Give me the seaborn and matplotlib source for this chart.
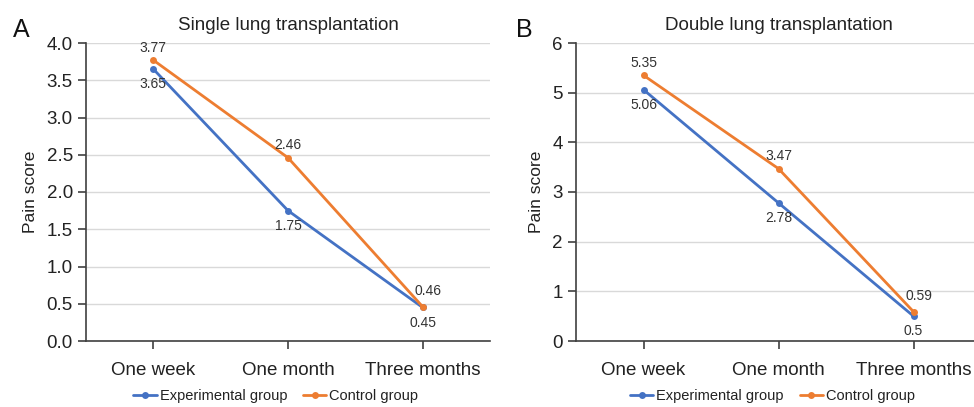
"""
Pain scores after single and double lung transplantation,
experimental vs control group.
"""

import matplotlib
matplotlib.use("Agg")
import matplotlib.pyplot as plt
import pandas as pd
import seaborn as sns

TIMES = ["One week", "One month", "Three months"]
GROUPS = ["Experimental group", "Control group"]

SINGLE_EXP = [3.65, 1.75, 0.45]
SINGLE_CTRL = [3.77, 2.46, 0.46]
DOUBLE_EXP = [5.06, 2.78, 0.5]
DOUBLE_CTRL = [5.35, 3.47, 0.59]

SINGLE_TICKS = [0.0, 0.5, 1.0, 1.5, 2.0, 2.5, 3.0, 3.5, 4.0]
DOUBLE_TICKS = [0, 1, 2, 3, 4, 5, 6]

COLORS = {"Experimental group": "#4472C4", "Control group": "#ED7D31"}


def to_long(exp, ctrl):
    rows = []
    for g, vals in zip(GROUPS, [exp, ctrl]):
        for t, v in zip(TIMES, vals):
            rows.append({"time": t, "score": v, "group": g})
    return pd.DataFrame(rows)


def fmt(v):
    s = f"{v:.2f}".rstrip("0")
    return s if not s.endswith(".") else s + "0"


def draw_panel(ax, exp, ctrl, ticks, tick_fmt, title, legend_x):
    df = to_long(exp, ctrl)
    sns.lineplot(data=df, x="time", y="score", hue="group", palette=COLORS,
                 marker="o", markersize=5, markeredgewidth=0, linewidth=2,
                 sort=False, ax=ax)
    ax.set_xlim(-0.5, 2.5)
    ax.set_ylim(ticks[0], ticks[-1])
    ax.set_yticks(ticks)
    ax.set_yticklabels([tick_fmt.format(t) for t in ticks])
    ax.grid(axis="y", color="#d9d9d9", linewidth=1)
    ax.grid(axis="x", visible=False)
    for side in ["top", "right"]:
        ax.spines[side].set_visible(False)
    for side in ["left", "bottom"]:
        ax.spines[side].set_color("#404040")
        ax.spines[side].set_linewidth(1.2)
    ax.tick_params(axis="both", direction="out", length=6, width=1.2,
                   bottom=True, left=True,
                   color="#404040", labelsize=13.5, labelcolor="#222222")
    ax.tick_params(axis="x", pad=9)
    ax.set_xlabel("")
    ax.set_ylabel("Pain score", fontsize=12.5, color="#222222", labelpad=6)
    ax.set_title(title, fontsize=13.5, color="#222222", pad=9)

    # data labels: experimental below, control above
    for i, (e, c) in enumerate(zip(exp, ctrl)):
        dx = 4 if i == 2 else 0
        dy = 11 if i == 2 else 9
        ax.annotate(fmt(e), (i, e), xytext=(0, -11), textcoords="offset points",
                    ha="center", va="center", fontsize=10, color="#333333")
        ax.annotate(fmt(c), (i, c), xytext=(dx, dy), textcoords="offset points",
                    ha="center", va="center", fontsize=10, color="#333333")

    handles, labels = ax.get_legend_handles_labels()
    ax.legend(handles, labels, loc="center", bbox_to_anchor=(legend_x, -0.185),
              ncol=2, frameon=False, fontsize=10.5, handlelength=1.6,
              handletextpad=0.2, columnspacing=1.1, labelcolor="#222222")


def main():
    sns.set_theme(style="white")
    plt.rcParams["font.family"] = ["Liberation Sans", "DejaVu Sans"]

    fig = plt.figure(figsize=(9.74, 4.07), dpi=100)
    ax_a = fig.add_axes([86 / 974, 66 / 407, 404 / 974, 298 / 407])
    ax_b = fig.add_axes([576 / 974, 66 / 407, 405 / 974, 298 / 407])

    draw_panel(ax_a, SINGLE_EXP, SINGLE_CTRL, SINGLE_TICKS, "{:.1f}",
               "Single lung transplantation", 0.47)
    draw_panel(ax_b, DOUBLE_EXP, DOUBLE_CTRL, DOUBLE_TICKS, "{:d}",
               "Double lung transplantation", 0.485)

    fig.text(13 / 974, 1 - 37 / 407, "A", fontsize=18, color="#111111")
    fig.text(516 / 974, 1 - 37 / 407, "B", fontsize=18, color="#111111")

    fig.savefig("out.png", dpi=100)
    plt.close(fig)


if __name__ == "__main__":
    main()
